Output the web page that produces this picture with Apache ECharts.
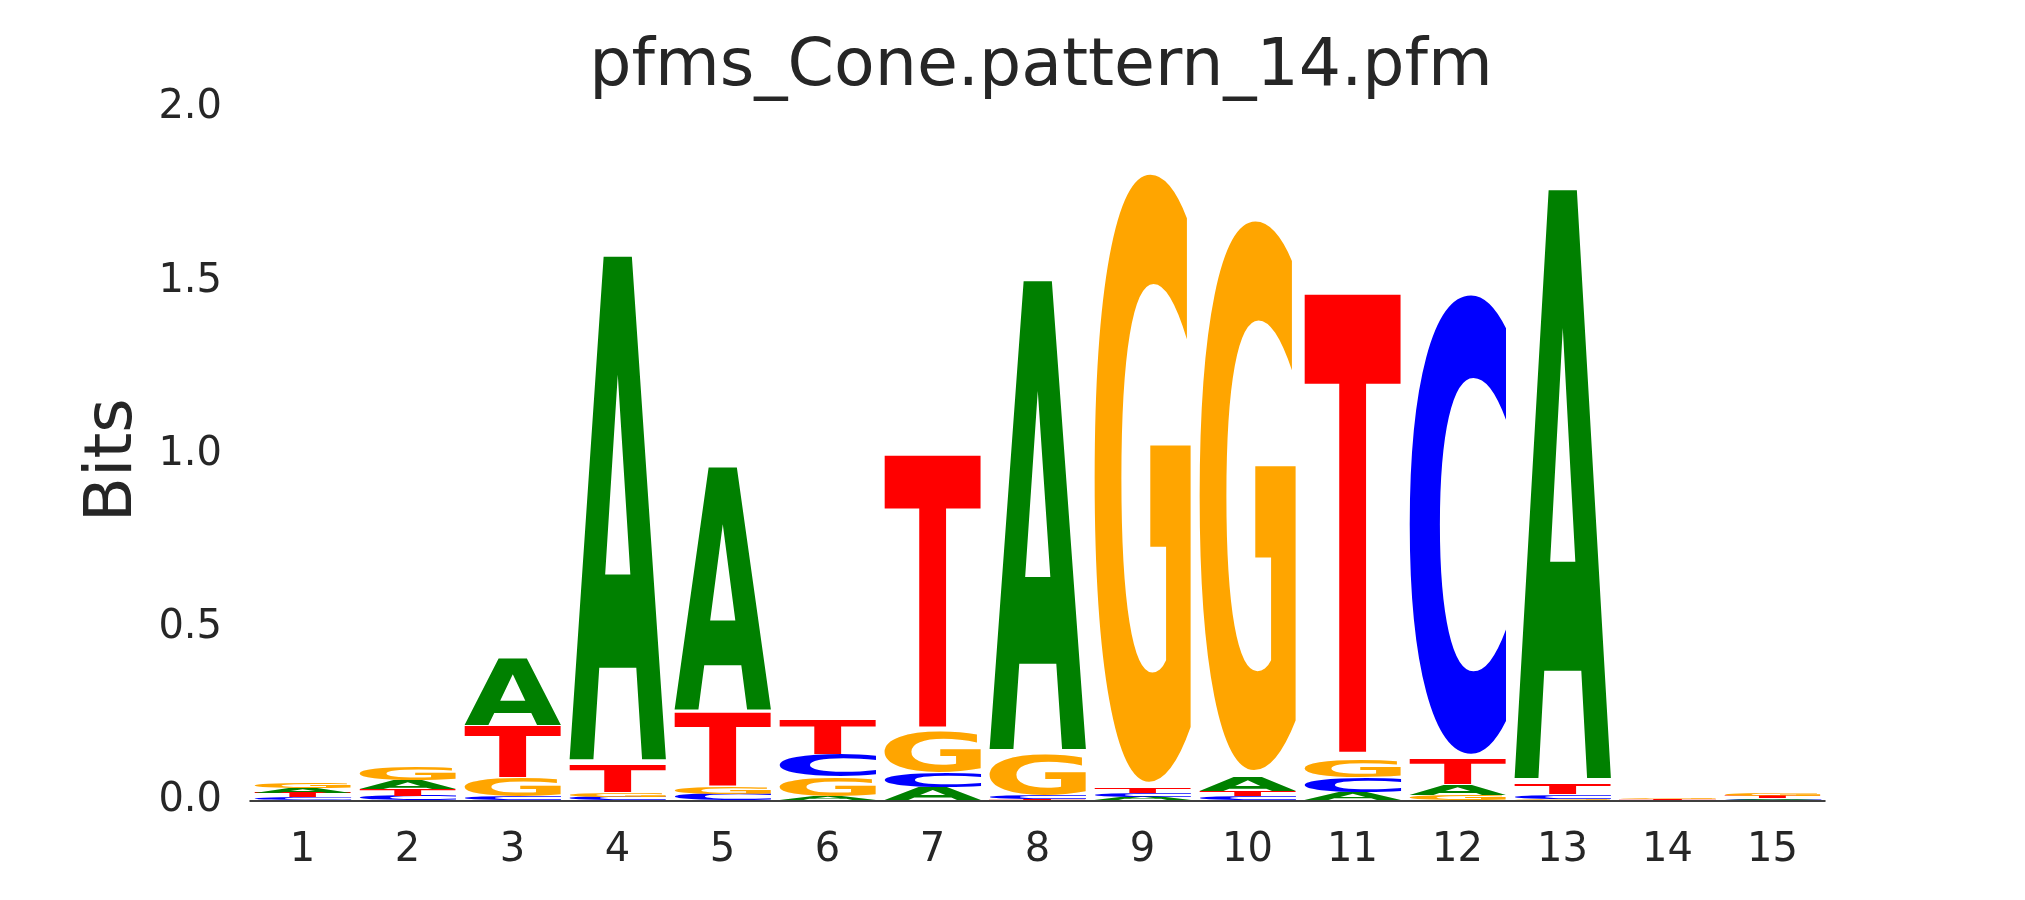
<!DOCTYPE html>
<html>
<head>
<meta charset="utf-8">
<script src="https://cdn.jsdelivr.net/npm/echarts@6/dist/echarts.min.js"></script>
<style>
html,body{margin:0;padding:0;background:#fff;}
#chart{width:2025px;height:900px;}
</style>
</head>
<body>
<div id="chart"></div>
<script>
// ---- data (bits per letter at each position) ----
const positions = ['1','2','3','4','5','6','7','8','9','10','11','12','13','14','15'];
const letters = ['A','C','G','T'];
const colors = ['#008000','#0000ff','#ffa500','#ff0000'];
const bitsA = [0.015,0.026,0.195,1.483,0.714,0.011,0.039,1.380,0.010,0.043,0.024,0.030,1.734,0.001,0.005];
const bitsC = [0.009,0.014,0.012,0.010,0.018,0.066,0.042,0.012,0.011,0.013,0.043,1.357,0.013,0.001,0.002];
const bitsG = [0.016,0.040,0.054,0.012,0.020,0.057,0.119,0.120,1.798,1.624,0.051,0.017,0.005,0.004,0.0075];
const bitsT = [0.013,0.018,0.150,0.082,0.218,0.098,0.805,0.003,0.013,0.014,1.358,0.073,0.030,0.0015,0.007];
const yTicks = [0, 0.5, 1.0, 1.5, 2.0];
const titleText = 'pfms_Cone.pattern_14.pfm';

// build stacked letter boxes (smallest at bottom, biggest on top)
const series = [bitsA, bitsC, bitsG, bitsT];
const stackData = [];
positions.forEach((p, i) => {
  const items = letters.map((l, k) => ({k, v: series[k][i]})).sort((a, b) => a.v - b.v);
  let floor = 0;
  items.forEach(it => {
    stackData.push([i, floor, floor + it.v, it.k]);
    floor += it.v;
  });
});

// glyph metrics for stretching each letter to fill its box
const FS = 200;
const FONT = 'bold ' + FS + 'px "DejaVu Sans"';
const mctx = document.createElement('canvas').getContext('2d');
mctx.font = FONT; mctx.textBaseline = 'middle'; mctx.textAlign = 'left';
const boxes = letters.map(ch => {
  const m = mctx.measureText(ch);
  return {l: -m.actualBoundingBoxLeft, r: m.actualBoundingBoxRight, t: -m.actualBoundingBoxAscent, b: m.actualBoundingBoxDescent};
});

const chart = echarts.init(document.getElementById('chart'), null, {renderer: 'canvas'});
const txt = '#262626';
chart.setOption({
  animation: false,
  backgroundColor: '#ffffff',
  title: {
    text: titleText, left: 1036, textAlign: 'center', top: 29,
    textStyle: {fontFamily: 'DejaVu Sans', fontSize: 66.5, fontWeight: 'normal', color: txt}
  },
  grid: {left: 250, right: 200, top: 108, bottom: 99.5, containLabel: false},
  xAxis: {
    type: 'category', data: positions, boundaryGap: true,
    axisTick: {show: false},
    axisLine: {show: true, lineStyle: {color: '#000000', width: 1.5}},
    axisLabel: {fontFamily: 'DejaVu Sans', fontSize: 40, color: txt, margin: 30},
    splitLine: {show: false}
  },
  yAxis: {
    type: 'value', min: 0, max: 2, interval: 0.5,
    axisLine: {show: false}, axisTick: {show: false}, splitLine: {show: false},
    axisLabel: {fontFamily: 'DejaVu Sans', fontSize: 40, color: txt, margin: 28,
      formatter: v => (yTicks.indexOf(v) >= 0 ? v.toFixed(1) : '')},
    name: 'Bits', nameLocation: 'middle', nameGap: 103, nameRotate: 90,
    nameTextStyle: {fontFamily: 'DejaVu Sans', fontSize: 66, color: txt, padding: [0, 12, 0, 0]}
  },
  series: [{
    type: 'custom',
    silent: true,
    data: stackData,
    encode: {x: 0, y: [1, 2]},
    renderItem: function (params, api) {
      const pos = api.value(0), lo = api.value(1), hi = api.value(2), li = api.value(3);
      const p0 = api.coord([pos, lo]);
      const p1 = api.coord([pos, hi]);
      const bw = api.size([1, 0])[0] * 0.924;
      const h = p0[1] - p1[1];
      const pad = h * 0.01;
      const X0 = p0[0] - bw / 2, Y0 = p1[1] + pad, W = bw, H = h - 2 * pad;
      if (H <= 0.05) return null;
      const bb = boxes[li];
      const sx = W / (bb.r - bb.l), sy = H / (bb.b - bb.t);
      return {
        type: 'text',
        x: X0 - sx * bb.l, y: Y0 - sy * bb.t,
        scaleX: sx, scaleY: sy,
        style: {text: letters[li], x: 0, y: 0, font: FONT, fill: colors[li],
                align: 'left', verticalAlign: 'middle', lineHeight: FS}
      };
    }
  }]
});
</script>
</body>
</html>
